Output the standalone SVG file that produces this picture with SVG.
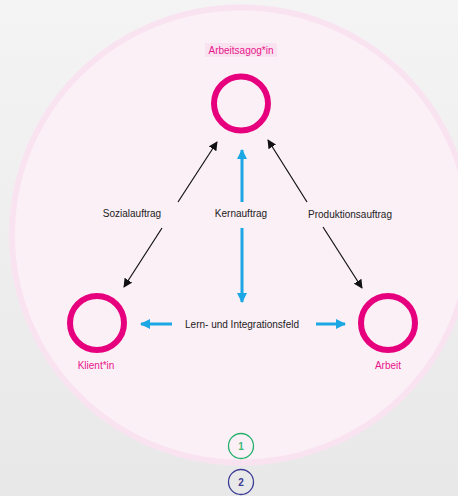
<svg xmlns="http://www.w3.org/2000/svg" width="458" height="496" viewBox="0 0 458 496">
<defs>
<linearGradient id="bg" x1="0" y1="0" x2="0" y2="1">
<stop offset="0" stop-color="#f4f4f4"/>
<stop offset="1" stop-color="#e8e8e8"/>
</linearGradient>
<marker id="ab" viewBox="0 0 10 10" refX="9" refY="5" markerWidth="9" markerHeight="9" markerUnits="userSpaceOnUse" orient="auto">
<path d="M0,0 L10,5 L0,10 z" fill="#111"/>
</marker>
<marker id="ac" viewBox="0 0 10 10" refX="9" refY="5" markerWidth="10" markerHeight="10" markerUnits="userSpaceOnUse" orient="auto">
<path d="M0,0 L10,5 L0,10 z" fill="#1aa7e4"/>
</marker>
</defs>
<style>
.node{fill:none;stroke:#e6007e;stroke-width:6}
.lbl{font-family:"Liberation Sans",Arial,sans-serif;font-size:10px;fill:#e8168a;text-anchor:middle}
.t{font-family:"Liberation Sans",Arial,sans-serif;font-size:10px;fill:#222;text-anchor:middle}
.blk{stroke:#111;stroke-width:1.2;fill:none;marker-end:url(#ab)}
.blu{stroke:#1aa7e4;stroke-width:3;fill:none;marker-end:url(#ac)}
.num{font-family:"Liberation Sans",Arial,sans-serif;font-size:10px;font-weight:bold;text-anchor:middle}
</style>
<rect width="458" height="496" fill="url(#bg)"/>
<ellipse cx="241" cy="235" rx="229" ry="227.5" fill="#fcf0f7" stroke="#fae3f1" stroke-width="6"/>

<g id="connectors">
<line class="blk" x1="178" y1="202" x2="217" y2="142"/>
<line class="blk" x1="162" y1="228" x2="124" y2="287"/>
<line class="blk" x1="307" y1="202" x2="268" y2="140"/>
<line class="blk" x1="323" y1="227" x2="362" y2="288"/>
<line class="blu" x1="242" y1="202" x2="242" y2="150"/>
<line class="blu" x1="242" y1="228" x2="242" y2="302"/>
<line class="blu" x1="172" y1="324" x2="141" y2="324"/>
<line class="blu" x1="316" y1="324" x2="345" y2="324"/>
<text class="t" x="132" y="217">Sozialauftrag</text>
<text class="t" x="241" y="217">Kernauftrag</text>
<text class="t" x="350" y="218">Produktionsauftrag</text>
<text class="t" x="242" y="328">Lern- und Integrationsfeld</text>
</g>

<g id="arbeitsagogin">
<rect x="205" y="43" width="72" height="14" fill="#fae3f1"/>
<text class="lbl" x="241" y="53.5">Arbeitsagog*in</text>
<circle class="node" cx="241" cy="103.5" r="27"/>
</g>

<g id="klientin">
<circle class="node" cx="97" cy="323" r="27"/>
<text class="lbl" x="96" y="369">Klient*in</text>
</g>

<g id="arbeit">
<circle class="node" cx="388" cy="323" r="27"/>
<text class="lbl" x="388" y="369">Arbeit</text>
</g>

<g id="n1">
<circle cx="241" cy="446" r="12.5" fill="none" stroke="#22b06a" stroke-width="1.3"/>
<text class="num" x="241" y="449.5" fill="#3cb878">1</text>
</g>
<g id="n2">
<circle cx="241" cy="482" r="12.5" fill="none" stroke="#3c3c96" stroke-width="1.3"/>
<text class="num" x="241" y="485.5" fill="#3c3c96">2</text>
</g>
</svg>
